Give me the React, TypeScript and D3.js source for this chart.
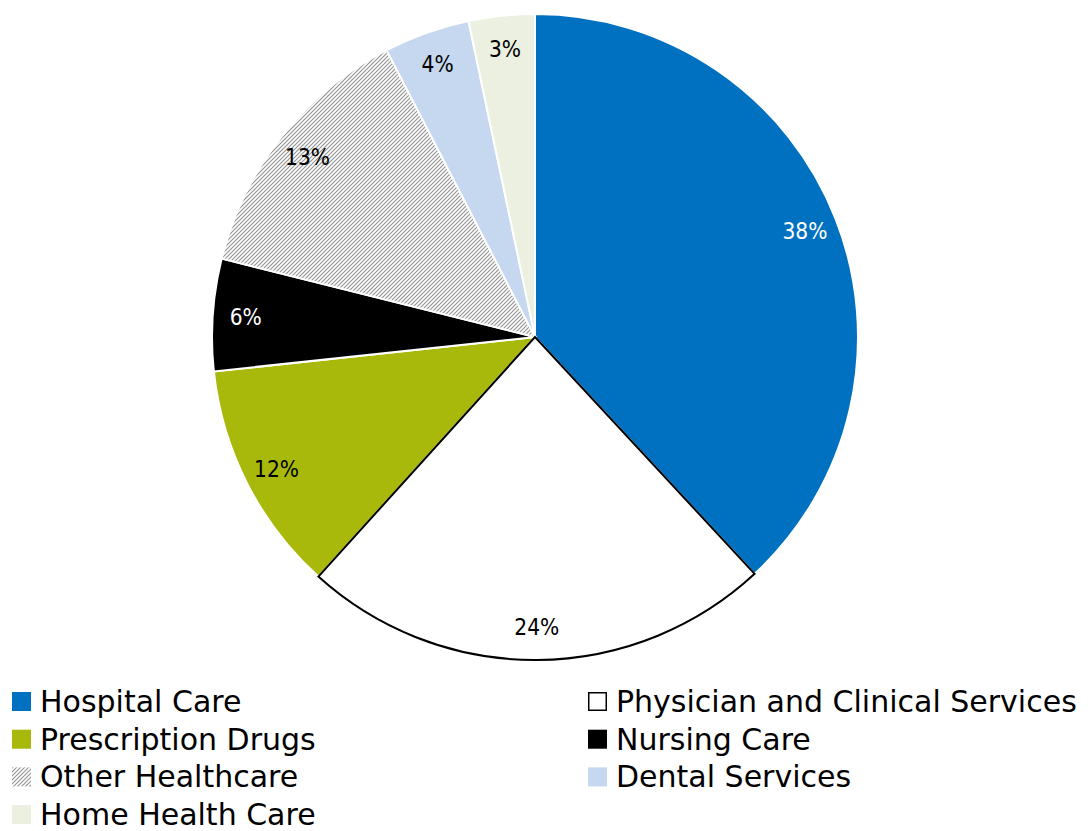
import React from "react";
import * as d3 from "d3";

const categories = [
  "Hospital Care",
  "Physician and Clinical Services",
  "Prescription Drugs",
  "Nursing Care",
  "Other Healthcare",
  "Dental Services",
  "Home Health Care",
];
const shares = [38.1, 23.6, 11.6, 5.6, 13.5, 4.3, 3.3];
const labels = ["38%", "24%", "12%", "6%", "13%", "4%", "3%"];
const fills = ["#0070C0", "#FFFFFF", "#A9B90B", "#000000", "url(#hatch)", "#C6D8EF", "#EBF0E0"];
const labelColors = ["#FFFFFF", "#000000", "#000000", "#FFFFFF", "#000000", "#000000", "#000000"];
const legendOrder = [0, 1, 2, 3, 4, 5, 6];

const W = 1091;
const H = 831;
const cx = 535;
const cy = 337;
const R = 323;

export default function App() {
  const data = categories.map((c, i) => ({ c, v: shares[i], i }));
  const pie = d3.pie<any>().sort(null).value((d) => d.v);
  const arcs = pie(data);
  const arcGen = d3.arc<any>().innerRadius(0).outerRadius(R);
  const labelArc = d3.arc<any>().innerRadius(290).outerRadius(290);

  const drawOrder = [0, 2, 3, 4, 5, 6, 1];

  return (
    <svg
      width={W}
      height={H}
      style={{ position: "absolute", left: 0, top: 0, background: "#fff" }}
    >
      <defs>
        <pattern id="hatch" width="4" height="4" patternUnits="userSpaceOnUse">
          <rect width="4" height="4" fill="#fff" />
          <path d="M-1,5 L5,-1 M-1,1 L1,-1 M3,5 L5,3" stroke="#959595" strokeWidth="1.2" />
        </pattern>
      </defs>
      <g transform={`translate(${cx},${cy})`}>
        {drawOrder.map((k) => {
          const a = arcs[k];
          return (
            <path
              key={k}
              d={arcGen(a) || ""}
              fill={fills[k]}
              stroke={k === 1 ? "#000" : "#fff"}
              strokeWidth={2}
              strokeLinejoin="miter"
            />
          );
        })}
        {arcs.map((a, k) => {
          const [x, y] = labelArc.centroid(a);
          return (
            <text
              key={"l" + k}
              x={x}
              y={y}
              textAnchor="middle"
              dominantBaseline="central"
              fill={labelColors[k]}
              style={{ fontFamily: "'DejaVu Sans Condensed', 'DejaVu Sans', sans-serif", fontSize: 22.5 }}
            >
              {labels[k]}
            </text>
          );
        })}
      </g>
      <g>
        {legendOrder.map((k, j) => {
          const col = j % 2;
          const row = Math.floor(j / 2);
          const x0 = col === 0 ? 12 : 588;
          const y0 = 692 + row * 37.7;
          return (
            <g key={"lg" + k}>
              <rect
                x={k === 1 ? x0 + 0.75 : x0}
                y={k === 1 ? y0 + 0.75 : y0}
                width={k === 1 ? 17.5 : 19}
                height={k === 1 ? 17.5 : 19}
                fill={fills[k]}
                stroke={k === 1 ? "#000" : "none"}
                strokeWidth={1.5}
              />
              <text
                x={x0 + 28}
                y={y0 + 20}
                fill="#000"
                style={{ fontFamily: "'DejaVu Sans', sans-serif", fontSize: 30 }}
              >
                {categories[k]}
              </text>
            </g>
          );
        })}
      </g>
    </svg>
  );
}
